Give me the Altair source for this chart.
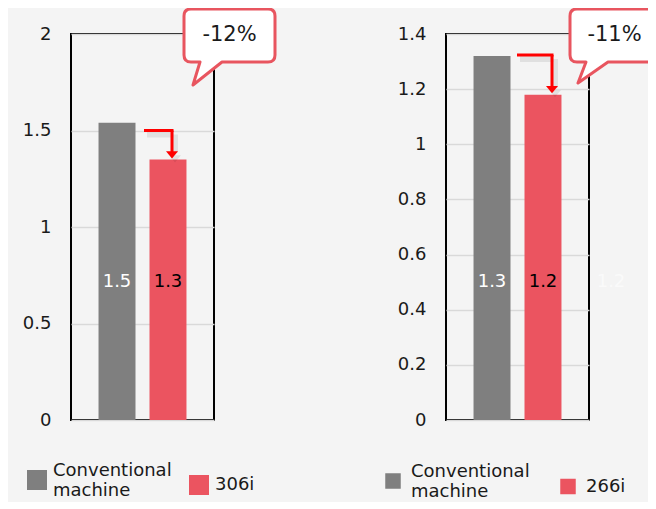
import altair as alt
import pandas as pd

# ---- data ----
machines_left = ["Conventional machine", "306i"]
values_left = [1.54, 1.35]
labels_left = ["1.5", "1.3"]

machines_right = ["Conventional machine", "266i"]
values_right = [1.32, 1.18]
labels_right = ["1.3", "1.2"]

ticks_left = [0, 0.5, 1, 1.5, 2]
ticks_right = [0, 0.2, 0.4, 0.6, 0.8, 1, 1.2, 1.4]

callout_texts = ["-12%", "-11%"]
ghost_label_right = "1.2"

# ---- styles ----
FONT = "DejaVu Sans"
GRAY = "#7F7F7F"
RED = "#EB5460"
CALLOUT_RED = "#E8555F"
ARROW_RED = "#FF0000"
TEXT = "#1A1A1A"
BG = "#F4F4F4"
PW, PH = 143, 386

CALLOUT_PATH_LEFT = (
    "M -0.77 -0.53 L 0.77 -0.53 Q 0.91 -0.53 0.91 -0.39 L 0.91 0.39 "
    "Q 0.91 0.53 0.77 0.53 L -0.15 0.53 L -0.73 0.99 L -0.59 0.53 "
    "L -0.77 0.53 Q -0.91 0.53 -0.91 0.39 L -0.91 -0.39 "
    "Q -0.91 -0.53 -0.77 -0.53 Z"
)
# right bubble is cut by the edge of the picture: open on its right side
CALLOUT_PATH_RIGHT = (
    "M 0.745 -0.53 L -0.77 -0.53 Q -0.91 -0.53 -0.91 -0.39 L -0.91 0.39 "
    "Q -0.91 0.53 -0.77 0.53 L -0.59 0.53 L -0.75 0.95 L -0.15 0.53 L 0.745 0.53"
)
HEAD_PATH = "M -1 -1.2 L 1 -1.2 L 0 0 Z"

one = pd.DataFrame({"k": [0]})


def arrow_layers(a, color, opacity, width, dx, dy):
    return [
        alt.Chart(one).mark_rule(
            color=color, strokeWidth=width, opacity=opacity, xOffset=dx, yOffset=dy
        ).encode(x=alt.value(a["x0"]), x2=alt.value(a["x1"] + 1.5), y=alt.datum(a["ytop"])),
        alt.Chart(one).mark_rule(
            color=color, strokeWidth=width, opacity=opacity, xOffset=dx, yOffset=dy
        ).encode(x=alt.value(a["x1"]), y=alt.datum(a["ytop"]), y2=alt.datum(a["ybot"])),
        alt.Chart(one).mark_point(
            shape=HEAD_PATH, size=144, filled=True, color=color, opacity=opacity,
            strokeWidth=0, xOffset=dx, yOffset=dy,
        ).encode(x=alt.value(a["x1"]), y=alt.datum(a["ytip"])),
    ]


def panel(machines, values, labels, ticks, ymax, callout, arrow, leg, ghost=None):
    df = pd.DataFrame({"machine": machines, "value": values, "label": labels})
    xenc = alt.X(
        "machine:N",
        sort=machines,
        axis=None,
        scale=alt.Scale(paddingInner=0.275, paddingOuter=0.54),
    )
    yenc = alt.Y(
        "value:Q",
        title=None,
        scale=alt.Scale(domain=[0, ymax], nice=False, zero=True),
        axis=alt.Axis(
            values=ticks,
            format="~g",
            ticks=False,
            domain=False,
            labelPadding=20,
            labelFontSize=18,
            labelFont=FONT,
            labelColor=TEXT,
            labelBaseline="middle",
            grid=True,
            gridColor="#D9D9D9",
            gridWidth=1.5,
        ),
    )
    bars = alt.Chart(df).mark_bar(opacity=1).encode(
        x=xenc,
        y=yenc,
        color=alt.Color(
            "machine:N",
            sort=machines,
            scale=alt.Scale(domain=machines, range=[GRAY, RED]),
            legend=alt.Legend(
                orient="none",
                legendX=leg["x"],
                legendY=leg["y"],
                direction="horizontal",
                title=None,
                symbolType="square",
                symbolSize=leg["size"],
                symbolStrokeWidth=0,
                symbolOpacity=1,
                labelFont=FONT,
                labelFontSize=18,
                labelColor=TEXT,
                labelOffset=leg["offset"],
                columnPadding=leg["colpad"],
                labelLimit=300,
                padding=0,
                labelExpr="split(datum.label, ' ')",
                labelBaseline=alt.ExprRef(
                    expr="datum.value === 'Conventional machine' ? 'bottom' : 'middle'"
                ),
            ),
        ),
    )
    bar_text = alt.Chart(df).mark_text(
        font=FONT, fontSize=18, baseline="middle", align="center"
    ).encode(
        x=alt.X("machine:N", sort=machines, axis=None),
        y=alt.value(248),
        text="label:N",
        color=alt.condition(
            alt.datum.machine == "Conventional machine",
            alt.value("white"),
            alt.value("black"),
        ),
    )
    layers = [bars, bar_text]
    if ghost is not None:
        layers.append(
            alt.Chart(one).mark_text(
                font=FONT, fontSize=18, baseline="middle", align="center", color="#FAFAFA"
            ).encode(x=alt.value(165), y=alt.value(248), text=alt.value(ghost))
        )
    # soft shadow, then the red arrow
    layers += arrow_layers(arrow, "#000000", 0.08, 6, 3, 4)
    layers += arrow_layers(arrow, ARROW_RED, 1, 3, 0, 0)
    layers.append(
        alt.Chart(one).mark_point(
            shape=callout["path"],
            size=10000,
            filled=True,
            fill="white",
            stroke=CALLOUT_RED,
            strokeWidth=3,
            strokeJoin="round",
            opacity=1,
        ).encode(x=alt.value(callout["cx"]), y=alt.value(1.5))
    )
    layers.append(
        alt.Chart(one).mark_text(
            font=FONT, fontSize=21, color=TEXT, baseline="middle", align="center"
        ).encode(
            x=alt.value(callout["cx"] + callout["dx"]),
            y=alt.value(0.5),
            text=alt.value(callout["text"]),
        )
    )
    return alt.layer(*layers).properties(width=PW, height=PH)


left = panel(
    machines_left, values_left, labels_left, ticks_left, 2,
    {"cx": 158.5, "dx": 0, "text": callout_texts[0], "path": CALLOUT_PATH_LEFT},
    {"x0": 73, "x1": 101, "ytop": 1.50, "ybot": 1.385, "ytip": 1.355},
    {"x": -44, "y": 436, "size": 400, "offset": 6, "colpad": 17},
)
right = panel(
    machines_right, values_right, labels_right, ticks_right, 1.4,
    {"cx": 169.5, "dx": -1, "text": callout_texts[1], "path": CALLOUT_PATH_RIGHT},
    {"x0": 71, "x1": 106, "ytop": 1.324, "ybot": 1.205, "ytip": 1.185},
    {"x": -62, "y": 438, "size": 240, "offset": 9, "colpad": 29},
    ghost=ghost_label_right,
)

chart = (
    alt.hconcat(left, right, spacing=232, bounds="flush")
    .resolve_scale(color="independent")
    .properties(
        background=BG,
        padding={"left": 13, "top": -2, "right": -8, "bottom": 0},
    )
    .configure(font=FONT)
    .configure_view(stroke="black", strokeWidth=2)
)

chart.save("out.html", embed_options={"renderer": "svg", "actions": False})
